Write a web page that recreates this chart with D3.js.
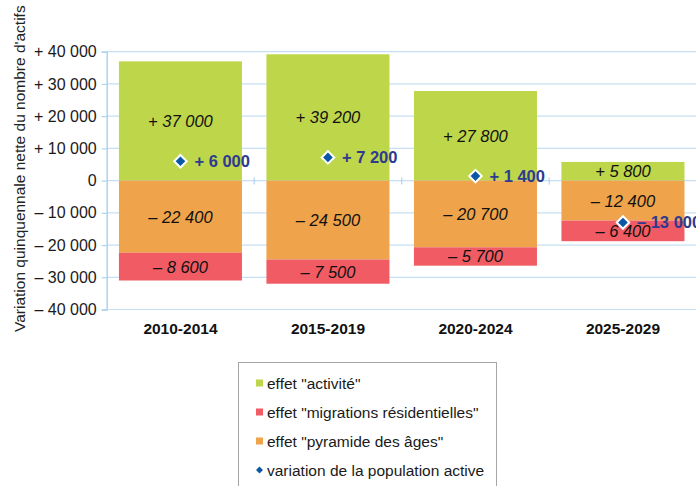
<!DOCTYPE html>
<html><head><meta charset="utf-8">
<script src="https://cdn.jsdelivr.net/npm/d3@7"></script>
<style>
html,body{margin:0;padding:0;background:#fff;}
svg{display:block;font-family:"Liberation Sans",Arial,Helvetica,sans-serif;}
</style></head>
<body><svg id="c" width="696" height="486"></svg>
<script>
const categories = ["2010-2014","2015-2019","2020-2024","2025-2029"];
const activite   = [37000, 39200, 27800, 5800];
const pyramide   = [-22400, -24500, -20700, -12400];
const migrations = [-8600, -7500, -5700, -6400];
const variation  = [6000, 7200, 1400, -13000];
const yTicks = [40000,30000,20000,10000,0,-10000,-20000,-30000,-40000];
const seriesNames = {
  activite: 'effet "activité"',
  migrations: 'effet "migrations résidentielles"',
  pyramide: 'effet "pyramide des âges"',
  variation: "variation de la population active"
};
const colors = {activite:"#bed64a", pyramide:"#efa34b", migrations:"#f15b63", variation:"#0a57a6"};

const svg = d3.select("#c");
const W = 696, H = 486;
const plotL = 106.7, plotR = 696.7, plotT = 51.7, plotB = 309.5;

const x = d3.scaleBand().domain(categories).range([plotL, plotR]).paddingInner(0.166).paddingOuter(0.083);
const y = d3.scaleLinear().domain([-40000, 40000]).range([plotB, plotT]);

function fmtNum(v){
  const s = Math.abs(v).toString().replace(/\B(?=(\d{3})+(?!\d))/g, " ");
  if (v > 0) return "+ " + s;
  if (v < 0) return "\u2013 " + s;
  return "0";
}

// gridlines
svg.append("g").selectAll("line").data(yTicks).join("line")
  .attr("x1", plotL).attr("x2", W).attr("y1", d=>y(d)).attr("y2", d=>y(d))
  .attr("stroke", "#c6e0f3").attr("stroke-width", 1.2);

// y axis
const yAxis = d3.axisLeft(y).tickValues(yTicks).tickSize(5).tickPadding(5).tickFormat(fmtNum);
const ga = svg.append("g").attr("transform", `translate(${plotL},0)`).call(yAxis);
ga.select(".domain").attr("stroke", "#aed2f0").attr("stroke-width", 1.5);
ga.selectAll(".tick line").attr("stroke", "#aed2f0").attr("stroke-width", 1.2);
ga.selectAll(".tick text").attr("fill", "#1a1a1a").style("font-size", "16px").style("font-family", "'Liberation Sans',Arial,sans-serif");

// data table
const rows = categories.map((c,i)=>({cat:c, activite:activite[i], pyramide:pyramide[i], migrations:migrations[i], variation:variation[i]}));
const keys = ["activite","pyramide","migrations"];
const stack = d3.stack().keys(keys).offset(d3.stackOffsetDiverging)(rows);

const gBars = svg.append("g");
stack.forEach(layer=>{
  gBars.append("g").selectAll("rect").data(layer).join("rect")
    .attr("x", d=>x(d.data.cat))
    .attr("width", x.bandwidth())
    .attr("y", d=>y(Math.max(d[0],d[1])))
    .attr("height", d=>Math.abs(y(d[0])-y(d[1])))
    .attr("fill", colors[layer.key]);
});

// x axis at zero with small ticks at category boundaries
const zeroY = y(0);
const bounds = categories.slice(1).map(c=>x(c) - x.step()*x.paddingInner()/2);
svg.append("g").selectAll("line").data(bounds).join("line")
  .attr("x1", d=>d).attr("x2", d=>d).attr("y1", zeroY-3).attr("y2", zeroY+4)
  .attr("stroke", "#aed2f0").attr("stroke-width", 1.2);

// segment labels
const gLab = svg.append("g").style("font-size","16.5px").style("font-style","italic").attr("fill","#111");
stack.forEach(layer=>{
  gLab.append("g").selectAll("text").data(layer).join("text")
    .attr("x", d=>x(d.data.cat)+x.bandwidth()/2)
    .attr("y", d=>(y(d[0])+y(d[1]))/2)
    .attr("dy", "0.36em")
    .attr("text-anchor","middle")
    .text(d=>fmtNum(d.data[layer.key]));
});

// diamonds
svg.append("g").selectAll("path").data(rows).join("path")
  .attr("d", d3.symbol().type(d3.symbolSquare).size(78))
  .attr("transform", d=>`translate(${x(d.cat)+x.bandwidth()/2},${y(d.variation)}) rotate(45)`)
  .attr("fill", colors.variation).attr("stroke","#fff").attr("stroke-width",2);
svg.append("g").selectAll("text").data(rows).join("text")
  .attr("x", d=>x(d.cat)+x.bandwidth()/2+14)
  .attr("y", d=>y(d.variation))
  .attr("dy","0.36em")
  .attr("fill","#2e3a8f").style("font-weight","bold").style("font-size","16.5px")
  .text(d=>fmtNum(d.variation));

// category labels
svg.append("g").selectAll("text").data(categories).join("text")
  .attr("x", d=>x(d)+x.bandwidth()/2).attr("y", 328).attr("dy","0.36em")
  .attr("text-anchor","middle").style("font-weight","bold").style("font-size","15.5px")
  .attr("fill","#111").text(d=>d);

// y title
svg.append("text")
  .attr("transform","translate(24.5,332) rotate(-90)")
  .attr("text-anchor","start").style("font-size","15.5px").attr("fill","#222")
  .text("Variation quinquennale nette du nombre d'actifs");

// legend
const lg = svg.append("g");
lg.append("rect").attr("x",238.5).attr("y",362.5).attr("width",258).attr("height",140)
  .attr("fill","#fff").attr("stroke","#a6a6a6").attr("stroke-width",1);
const legItems = ["activite","migrations","pyramide","variation"];
const li = lg.selectAll("g").data(legItems).join("g")
  .attr("transform",(d,i)=>`translate(259.5,${383+i*29})`);
li.filter(d=>d!=="variation").append("rect")
  .attr("x",-3.5).attr("y",-3.5).attr("width",7).attr("height",7).attr("fill",d=>colors[d]);
li.filter(d=>d==="variation").append("path")
  .attr("d", d3.symbol().type(d3.symbolSquare).size(24)).attr("transform","rotate(45)")
  .attr("fill", colors.variation);
li.append("text").attr("x",7.5).attr("dy","0.36em").style("font-size","15.5px").attr("fill","#1a1a1a")
  .text(d=>seriesNames[d]);
</script></body></html>
